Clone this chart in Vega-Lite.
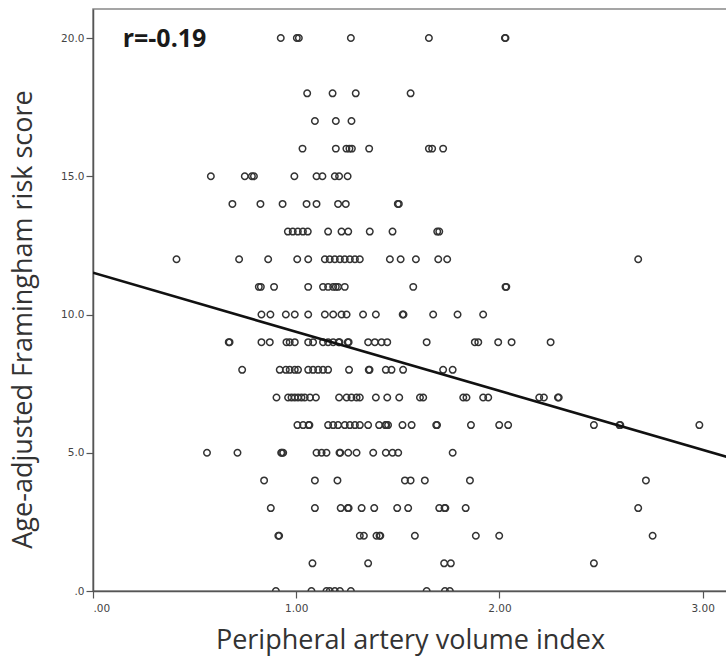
{
  "$schema": "https://vega.github.io/schema/vega-lite/v6.json",
  "width": 634,
  "height": 582,
  "autosize": "none",
  "padding": {"left": 93, "top": 9, "right": 0, "bottom": 65},
  "background": "white",
  "config": {
    "view": {"stroke": "#888", "strokeWidth": 1.5},
    "axis": {
      "grid": false,
      "domainColor": "#555",
      "domainWidth": 1.5,
      "tickColor": "#555",
      "tickWidth": 1.2,
      "tickSize": 7,
      "labelColor": "#444",
      "labelFont": "DejaVu Sans",
      "labelFontSize": 10.5,
      "titleFont": "Open Sans",
      "titleFontSize": 27,
      "titleFontWeight": "normal",
      "titleColor": "#333"
    }
  },
  "datasets": {
    "pts": [
      {"x":0.924,"y":20},{"x":1.003,"y":20},{"x":1.013,"y":20},{"x":1.269,"y":20},{"x":1.653,"y":20},{"x":2.027,"y":20},{"x":2.030,"y":20},
      {"x":1.054,"y":18},{"x":1.179,"y":18},{"x":1.293,"y":18},{"x":1.563,"y":18},
      {"x":1.092,"y":17},{"x":1.195,"y":17},{"x":1.272,"y":17},
      {"x":1.031,"y":16},{"x":1.195,"y":16},{"x":1.247,"y":16},{"x":1.262,"y":16},{"x":1.274,"y":16},{"x":1.359,"y":16},{"x":1.653,"y":16},{"x":1.669,"y":16},{"x":1.723,"y":16},
      {"x":0.580,"y":15},{"x":0.747,"y":15},{"x":0.782,"y":15},{"x":0.792,"y":15},{"x":0.991,"y":15},{"x":1.100,"y":15},{"x":1.129,"y":15},{"x":1.190,"y":15},{"x":1.211,"y":15},{"x":1.253,"y":15},
      {"x":0.686,"y":14},{"x":0.824,"y":14},{"x":0.933,"y":14},{"x":1.051,"y":14},{"x":1.100,"y":14},{"x":1.206,"y":14},{"x":1.244,"y":14},{"x":1.500,"y":14},{"x":1.505,"y":14},
      {"x":0.959,"y":13},{"x":0.983,"y":13},{"x":1.008,"y":13},{"x":1.033,"y":13},{"x":1.057,"y":13},{"x":1.157,"y":13},{"x":1.223,"y":13},{"x":1.256,"y":13},{"x":1.362,"y":13},{"x":1.474,"y":13},{"x":1.694,"y":13},{"x":1.704,"y":13},
      {"x":0.411,"y":12},{"x":0.719,"y":12},{"x":0.862,"y":12},{"x":1.005,"y":12},{"x":1.059,"y":12},{"x":1.141,"y":12},{"x":1.165,"y":12},{"x":1.190,"y":12},{"x":1.215,"y":12},{"x":1.239,"y":12},{"x":1.264,"y":12},{"x":1.289,"y":12},{"x":1.313,"y":12},{"x":1.461,"y":12},{"x":1.514,"y":12},{"x":1.589,"y":12},{"x":1.699,"y":12},{"x":1.743,"y":12},{"x":2.683,"y":12},
      {"x":0.816,"y":11},{"x":0.826,"y":11},{"x":0.891,"y":11},{"x":1.059,"y":11},{"x":1.132,"y":11},{"x":1.157,"y":11},{"x":1.182,"y":11},{"x":1.195,"y":11},{"x":1.206,"y":11},{"x":1.239,"y":11},{"x":1.576,"y":11},{"x":2.030,"y":11},{"x":2.034,"y":11},
      {"x":0.829,"y":10},{"x":0.873,"y":10},{"x":0.949,"y":10},{"x":0.993,"y":10},{"x":1.059,"y":10},{"x":1.141,"y":10},{"x":1.182,"y":10},{"x":1.223,"y":10},{"x":1.248,"y":10},{"x":1.329,"y":10},{"x":1.392,"y":10},{"x":1.524,"y":10},{"x":1.528,"y":10},{"x":1.674,"y":10},{"x":1.794,"y":10},{"x":1.920,"y":10},
      {"x":0.668,"y":9},{"x":0.672,"y":9},{"x":0.829,"y":9},{"x":0.870,"y":9},{"x":0.952,"y":9},{"x":0.968,"y":9},{"x":0.993,"y":9},{"x":1.059,"y":9},{"x":1.083,"y":9},{"x":1.132,"y":9},{"x":1.157,"y":9},{"x":1.182,"y":9},{"x":1.209,"y":9},{"x":1.213,"y":9},{"x":1.254,"y":9},{"x":1.258,"y":9},{"x":1.354,"y":9},{"x":1.387,"y":9},{"x":1.420,"y":9},{"x":1.448,"y":9},{"x":1.642,"y":9},{"x":1.879,"y":9},{"x":1.896,"y":9},{"x":1.994,"y":9},{"x":2.060,"y":9},{"x":2.252,"y":9},
      {"x":0.734,"y":8},{"x":0.919,"y":8},{"x":0.949,"y":8},{"x":0.968,"y":8},{"x":0.993,"y":8},{"x":1.009,"y":8},{"x":1.059,"y":8},{"x":1.083,"y":8},{"x":1.108,"y":8},{"x":1.132,"y":8},{"x":1.157,"y":8},{"x":1.260,"y":8},{"x":1.357,"y":8},{"x":1.361,"y":8},{"x":1.441,"y":8},{"x":1.469,"y":8},{"x":1.526,"y":8},{"x":1.723,"y":8},{"x":1.770,"y":8},
      {"x":0.903,"y":7},{"x":0.960,"y":7},{"x":0.977,"y":7},{"x":0.993,"y":7},{"x":1.009,"y":7},{"x":1.026,"y":7},{"x":1.042,"y":7},{"x":1.068,"y":7},{"x":1.097,"y":7},{"x":1.211,"y":7},{"x":1.248,"y":7},{"x":1.272,"y":7},{"x":1.297,"y":7},{"x":1.313,"y":7},{"x":1.392,"y":7},{"x":1.448,"y":7},{"x":1.507,"y":7},{"x":1.609,"y":7},{"x":1.625,"y":7},{"x":1.822,"y":7},{"x":1.838,"y":7},{"x":1.920,"y":7},{"x":1.945,"y":7},{"x":2.196,"y":7},{"x":2.219,"y":7},{"x":2.288,"y":7},{"x":2.292,"y":7},
      {"x":1.006,"y":6},{"x":1.034,"y":6},{"x":1.061,"y":6},{"x":1.065,"y":6},{"x":1.157,"y":6},{"x":1.182,"y":6},{"x":1.206,"y":6},{"x":1.239,"y":6},{"x":1.264,"y":6},{"x":1.289,"y":6},{"x":1.313,"y":6},{"x":1.354,"y":6},{"x":1.408,"y":6},{"x":1.439,"y":6},{"x":1.443,"y":6},{"x":1.452,"y":6},{"x":1.523,"y":6},{"x":1.568,"y":6},{"x":1.689,"y":6},{"x":1.693,"y":6},{"x":1.860,"y":6},{"x":1.999,"y":6},{"x":2.043,"y":6},{"x":2.465,"y":6},{"x":2.591,"y":6},{"x":2.595,"y":6},{"x":2.984,"y":6},
      {"x":0.561,"y":5},{"x":0.711,"y":5},{"x":0.926,"y":5},{"x":0.930,"y":5},{"x":0.936,"y":5},{"x":1.100,"y":5},{"x":1.125,"y":5},{"x":1.149,"y":5},{"x":1.213,"y":5},{"x":1.217,"y":5},{"x":1.256,"y":5},{"x":1.297,"y":5},{"x":1.379,"y":5},{"x":1.441,"y":5},{"x":1.474,"y":5},{"x":1.502,"y":5},{"x":1.770,"y":5},
      {"x":0.842,"y":4},{"x":1.092,"y":4},{"x":1.203,"y":4},{"x":1.535,"y":4},{"x":1.563,"y":4},{"x":1.633,"y":4},{"x":1.855,"y":4},{"x":2.721,"y":4},
      {"x":0.875,"y":3},{"x":1.092,"y":3},{"x":1.219,"y":3},{"x":1.254,"y":3},{"x":1.258,"y":3},{"x":1.322,"y":3},{"x":1.384,"y":3},{"x":1.497,"y":3},{"x":1.551,"y":3},{"x":1.704,"y":3},{"x":1.730,"y":3},{"x":1.734,"y":3},{"x":1.834,"y":3},{"x":2.683,"y":3},
      {"x":0.912,"y":2},{"x":0.916,"y":2},{"x":1.313,"y":2},{"x":1.333,"y":2},{"x":1.395,"y":2},{"x":1.410,"y":2},{"x":1.414,"y":2},{"x":1.584,"y":2},{"x":1.884,"y":2},{"x":1.999,"y":2},{"x":2.754,"y":2},
      {"x":1.080,"y":1},{"x":1.354,"y":1},{"x":1.728,"y":1},{"x":1.761,"y":1},{"x":2.465,"y":1},
      {"x":0.900,"y":0},{"x":1.075,"y":0},{"x":1.149,"y":0},{"x":1.165,"y":0},{"x":1.190,"y":0},{"x":1.215,"y":0},{"x":1.269,"y":0},{"x":1.642,"y":0},{"x":1.732,"y":0},{"x":1.756,"y":0}
    ],
    "fit": [{"x": 0, "y": 11.51}, {"x": 3.12, "y": 4.85}],
    "note": [{"x": 0.146, "y": 19.69, "label": "r=-0.19"}]
  },
  "layer": [
    {
      "data": {"name": "pts"},
      "mark": {"type": "point", "shape": "circle", "filled": false, "stroke": "#333", "strokeWidth": 1.5, "size": 42, "opacity": 1, "clip": true},
      "encoding": {
        "x": {
          "field": "x", "type": "quantitative",
          "scale": {"domain": [0, 3.12], "nice": false, "zero": false},
          "axis": {
            "values": [0, 1, 2, 3],
            "labelExpr": "datum.value == 0 ? '.00' : format(datum.value, '.2f')",
            "labelPadding": 5,
            "title": "Peripheral artery volume index",
            "titleX": 317,
            "titleY": 57,
            "titleAlign": "center",
            "titleBaseline": "alphabetic"
          }
        },
        "y": {
          "field": "y", "type": "quantitative",
          "scale": {"domain": [0, 21.05], "nice": false, "zero": false},
          "axis": {
            "values": [0, 5, 10, 15, 20],
            "labelExpr": "datum.value == 0 ? '.0' : format(datum.value, '.1f')",
            "labelPadding": 2,
            "title": "Age-adjusted Framingham risk score",
            "titleAngle": -90,
            "titleX": -62,
            "titleY": 310,
            "titleAlign": "center",
            "titleBaseline": "alphabetic"
          }
        }
      }
    },
    {
      "data": {"name": "fit"},
      "mark": {"type": "line", "color": "#111", "strokeWidth": 2.6, "clip": true},
      "encoding": {
        "x": {"field": "x", "type": "quantitative"},
        "y": {"field": "y", "type": "quantitative"}
      }
    },
    {
      "data": {"name": "note"},
      "mark": {"type": "text", "font": "Open Sans", "fontSize": 25, "fontWeight": "bold", "color": "#1a1a1a", "align": "left", "baseline": "alphabetic"},
      "encoding": {
        "x": {"field": "x", "type": "quantitative"},
        "y": {"field": "y", "type": "quantitative"},
        "text": {"field": "label"}
      }
    }
  ]
}
